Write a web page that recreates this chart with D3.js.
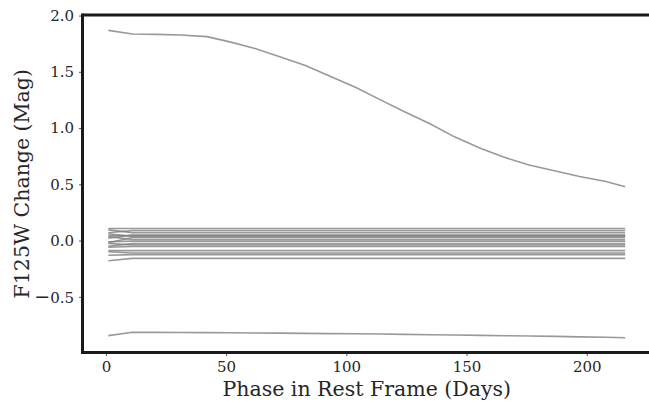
<!DOCTYPE html>
<html>
<head>
<meta charset="utf-8">
<script src="https://cdn.jsdelivr.net/npm/d3@7/dist/d3.min.js"></script>
<style>
  html, body { margin: 0; padding: 0; background: #fff; }
  svg { display: block; }
  text { font-family: "DejaVu Serif", serif; fill: #262626; }
</style>
</head>
<body>
<svg id="chart" width="649" height="403"></svg>
<script>
// Phase (rest-frame days) sampled for the two evolving light-curve differences
const curveDays = [1, 11, 21, 31, 42, 52, 62, 72, 83, 93, 104, 114, 124, 135, 145, 156, 166, 176, 187, 197, 208, 216];
const upperCurve = [1.868, 1.836, 1.833, 1.827, 1.813, 1.764, 1.707, 1.636, 1.556, 1.463, 1.360, 1.253, 1.147, 1.036, 0.922, 0.818, 0.738, 0.671, 0.618, 0.569, 0.525, 0.478];
const lowerCurve = [-0.845, -0.815, -0.816, -0.817, -0.818, -0.819, -0.821, -0.823, -0.825, -0.827, -0.829, -0.831, -0.834, -0.837, -0.840, -0.843, -0.846, -0.849, -0.852, -0.856, -0.860, -0.864];

// Phase sampling for the nearly constant models
const flatDays = [1, 11, 61, 111, 161, 216];
const flatSeries = [
  [0.107, 0.107, 0.107, 0.107, 0.107, 0.107],
  [0.070, 0.090, 0.090, 0.090, 0.090, 0.090],
  [0.095, 0.071, 0.071, 0.071, 0.071, 0.071],
  [0.020, 0.050, 0.050, 0.050, 0.050, 0.050],
  [0.044, 0.044, 0.044, 0.044, 0.044, 0.044],
  [0.060, 0.036, 0.036, 0.036, 0.036, 0.036],
  [-0.020, 0.027, 0.027, 0.027, 0.027, 0.027],
  [0.035, 0.010, 0.010, 0.010, 0.010, 0.010],
  [-0.010, -0.005, -0.005, -0.005, -0.005, -0.005],
  [-0.050, -0.027, -0.027, -0.027, -0.027, -0.027],
  [-0.025, -0.040, -0.040, -0.040, -0.040, -0.040],
  [-0.060, -0.053, -0.053, -0.053, -0.053, -0.053],
  [-0.089, -0.089, -0.089, -0.089, -0.089, -0.089],
  [-0.100, -0.110, -0.110, -0.110, -0.110, -0.110],
  [-0.130, -0.125, -0.125, -0.125, -0.125, -0.125],
  [-0.180, -0.158, -0.158, -0.158, -0.158, -0.158]
];

const xTicks = [0, 50, 100, 150, 200];
const yTicks = [-0.5, 0.0, 0.5, 1.0, 1.5, 2.0];

const svg = d3.select("#chart");
const x = d3.scaleLinear().domain([-9.75, 226.75]).range([82.5, 651]);
const y = d3.scaleLinear().domain([-0.995, 2.005]).range([352.5, 15]);

const line = d3.line().x(d => x(d[0])).y(d => y(d[1]));
const lines = svg.append("g").attr("fill", "none")
  .attr("stroke", "#7f7f7f").attr("stroke-width", 1.6).attr("stroke-opacity", 0.8);

flatSeries.forEach(vals => {
  lines.append("path").attr("d", line(flatDays.map((d, i) => [d, vals[i]])));
});
lines.append("path").attr("d", line(curveDays.map((d, i) => [d, upperCurve[i]])));
lines.append("path").attr("d", line(curveDays.map((d, i) => [d, lowerCurve[i]])));

// axes
const xAxis = svg.append("g").attr("transform", `translate(0,${y.range()[0]})`)
  .call(d3.axisBottom(x).tickValues(xTicks).tickSize(3.5).tickPadding(5).tickFormat(d3.format("d")));
const yAxis = svg.append("g").attr("transform", `translate(${x.range()[0]},0)`)
  .call(d3.axisLeft(y).tickValues(yTicks).tickSize(3.5).tickPadding(5).tickFormat(d3.format(".1f")));

[xAxis, yAxis].forEach(g => {
  g.select(".domain").remove();
  g.selectAll(".tick line").attr("stroke", "#555").attr("stroke-width", 1);
  g.selectAll(".tick text").attr("font-size", 15).attr("fill", "#262626")
    .style("font-family", "'DejaVu Serif', serif");
});

// negative labels: wide minus sign followed by the digits
yAxis.selectAll(".tick text").filter(d => d < 0).each(function(d) {
  const t = d3.select(this).text("");
  t.append("tspan").style("font-family", "'DejaVu Sans', sans-serif")
    .style("font-size", "19px").attr("dy", "0.32em").text("\u2212");
  t.append("tspan").attr("dy", "-0.02em").text(d3.format(".1f")(Math.abs(d)));
});

// spines
const spine = svg.append("g").attr("stroke", "#1a1a1a").attr("stroke-width", 3).attr("fill", "none");
const [x0, x1] = x.range(), [yb, yt] = y.range();
spine.append("line").attr("x1", x0).attr("x2", x0).attr("y1", yt - 1.5).attr("y2", yb + 1.5);
spine.append("line").attr("x1", x0).attr("x2", x1).attr("y1", yt).attr("y2", yt);
spine.append("line").attr("x1", x0).attr("x2", x1).attr("y1", yb).attr("y2", yb);
spine.append("line").attr("x1", x1).attr("x2", x1).attr("y1", yt).attr("y2", yb);

svg.append("text").attr("x", (x0 + x1) / 2).attr("y", 396)
  .attr("text-anchor", "middle").attr("font-size", 20.5)
  .text("Phase in Rest Frame (Days)");
svg.append("text").attr("transform", `translate(29,${(yt + yb) / 2}) rotate(-90)`)
  .attr("text-anchor", "middle").attr("font-size", 20.5)
  .text("F125W Change (Mag)");
</script>
</body>
</html>
